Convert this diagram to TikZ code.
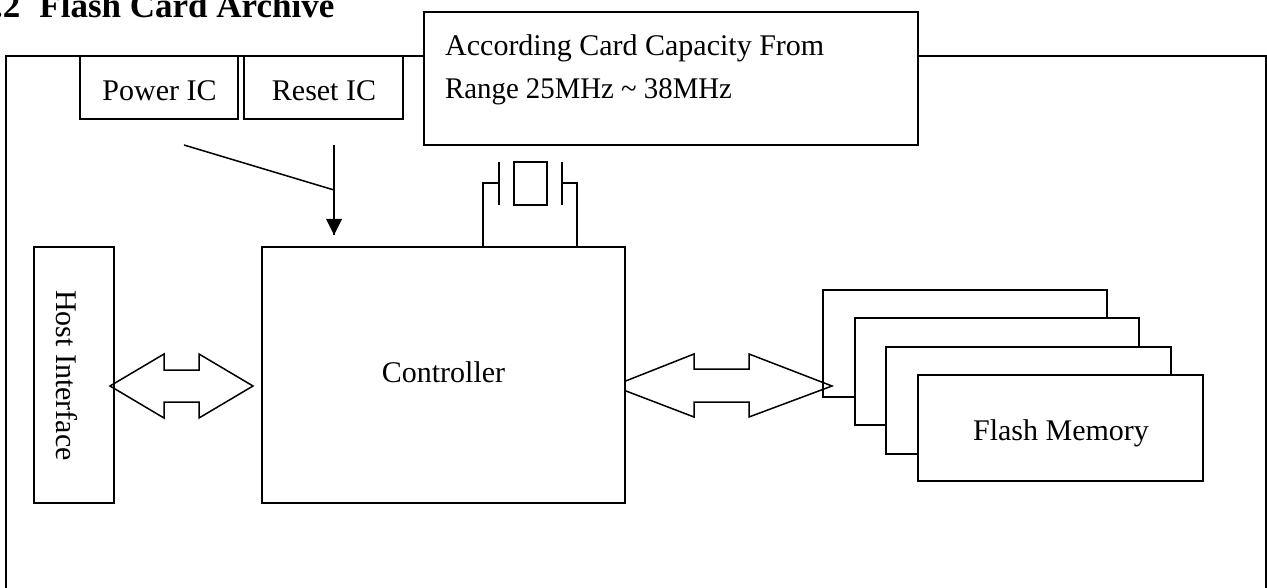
\documentclass[tikz,border=0pt]{standalone}
\usepackage{fontspec}
\setmainfont{Liberation Serif}
\tikzset{
  x=1pt,y=-1pt,
  ln/.style={draw=black,line width=1.5pt},
  blk/.style={ln,fill=white,inner sep=0pt,outer sep=0pt,anchor=north west},
  lbl/.style={font=\fontsize{30}{34}\selectfont,inner sep=0pt,anchor=base}
}
\begin{document}
\begin{tikzpicture}
\useasboundingbox (0,0) rectangle (1267,588);
\clip (0,0) rectangle (1267,588);
% frame
\coordinate (fa) at (6,588); \coordinate (fb) at (6,56);
\coordinate (fc) at (1266,56); \coordinate (fd) at (1266,588);
\draw[ln] (fa) -- (fb) -- (fc) -- (fd);
% title
\node[inner sep=0pt,anchor=base west,font=\fontsize{35}{38}\selectfont\bfseries] (title) at (-6,18) {.2\hspace{19pt}Flash Card Archive};
% top boxes
\node[blk,minimum width=158pt,minimum height=63pt] (power) at (80,56) {};
\node[lbl] (powert) at (159.5,101) {Power IC};
\node[blk,minimum width=159pt,minimum height=63pt] (reset) at (244,56) {};
\node[lbl] (resett) at (324,101) {Reset IC};
\node[blk,minimum width=494pt,minimum height=133pt] (freq) at (424,12) {};
\node[lbl,anchor=base west] (f1) at (445,56) {According Card Capacity From};
\node[lbl,anchor=base west] (f2) at (445,99) {\scalebox{0.96}[1]{Range 25MHz \textasciitilde{} 38MHz}};
% reset arrow
\coordinate (ra) at (334,145); \coordinate (rj) at (334,190);
\coordinate (pa) at (184,145); \coordinate (rb) at (334,235);
\draw[ln] (pa) -- (rj);
\draw[ln] (ra) -- (rb);
\fill (326,219) -- (342,219) -- (rb) -- cycle;
% crystal
\node[blk,minimum width=33pt,minimum height=43pt] (xtal) at (514,162) {};
\coordinate (pl1) at (499,162); \coordinate (pl2) at (499,205);
\coordinate (pr1) at (562,162); \coordinate (pr2) at (562,205);
\draw[ln] (pl1) -- (pl2);
\draw[ln] (pr1) -- (pr2);
% flash
\node[blk,minimum width=284pt,minimum height=107pt] (m1) at (823,290) {};
\node[blk,minimum width=284pt,minimum height=107pt] (m2) at (855,318) {};
\node[blk,minimum width=285pt,minimum height=107pt] (m3) at (886,347) {};
\node[blk,minimum width=285pt,minimum height=106pt] (m4) at (918,375) {};
\node[lbl] (mt) at (1061,440) {Flash Memory};
% arrow, its left tip hidden by the controller
\draw[ln,line join=miter] (613,386) -- (694,354) -- (694,369) -- (749,369) -- (749,354) -- (832,386) -- (749,417) -- (749,402) -- (694,402) -- (694,417) -- cycle;
% controller
\node[blk,minimum width=363pt,minimum height=256pt] (ctl) at (262,247) {};
\node[lbl] (ctlt) at (443.5,382) {Controller};
\coordinate (ll) at (499,183); \coordinate (lc) at (483,183);
\coordinate (rl) at (562,183); \coordinate (rc) at (577,183);
\draw[ln] (ll) -- (lc) -- (lc |- ctl.north);
\draw[ln] (rl) -- (rc) -- (rc |- ctl.north);
% host
\node[blk,minimum width=80pt,minimum height=256pt] (host) at (34,247) {};
\node[lbl,rotate=-90] (hostt) at (56.5,375.5) {Host Interface};
\draw[ln,line join=miter] (110,386) -- (164,354) -- (164,370) -- (199,370) -- (199,354) -- (253,386) -- (199,418) -- (199,402) -- (164,402) -- (164,418) -- cycle;
\end{tikzpicture}
\end{document}
